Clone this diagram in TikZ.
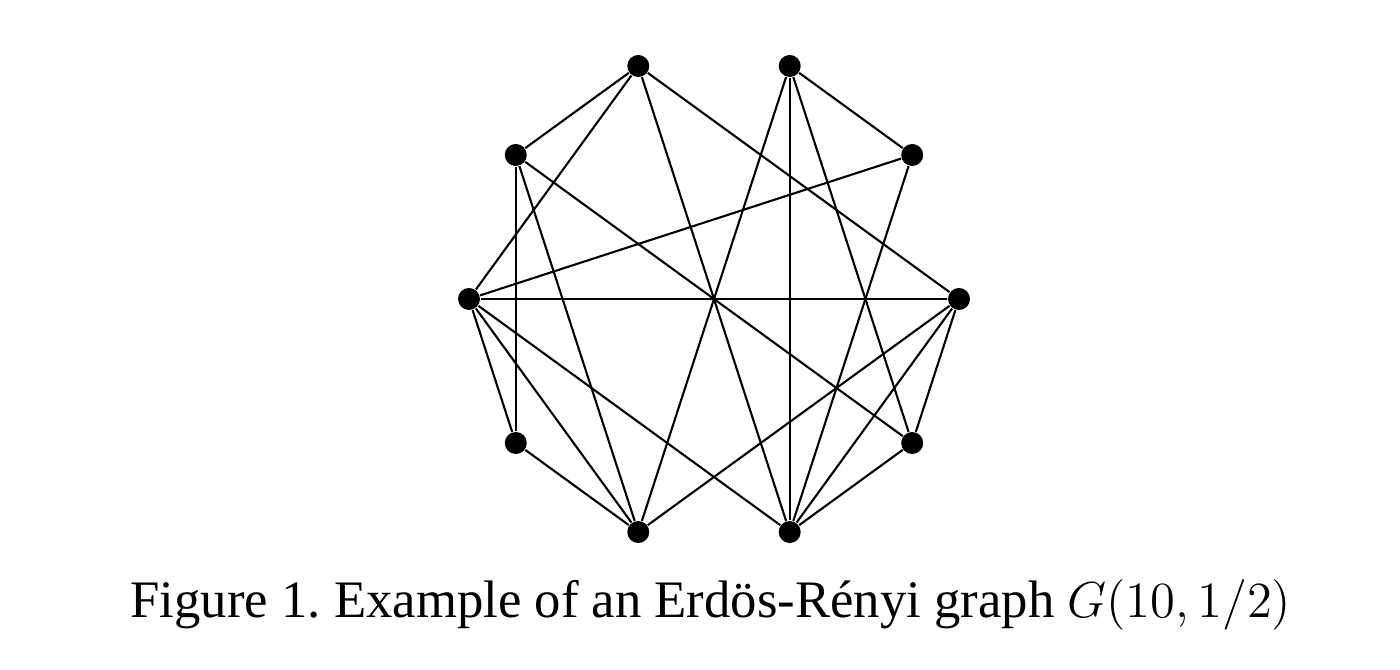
\documentclass[tikz,border=0pt]{standalone}
\usepackage{fontspec}
\setmainfont{Liberation Serif}
\usetikzlibrary{positioning}

\begin{document}
\begin{tikzpicture}[vertex/.style={circle,fill=black,inner sep=0pt,minimum size=0.22cm},edge/.style={line width=0.6pt}]
            \useasboundingbox (-7.14,2.99) rectangle (6.86,-3.71);
            \foreach \i in {0,...,9}
                \node[vertex] (v\i) at (36*\i:2.45) {};
            \foreach \a/\b in {0/3,0/5,0/7,0/8,0/9,1/2,1/5,1/8,2/7,2/8,2/9,3/4,3/5,3/8,4/6,4/7,4/9,5/6,5/7,5/8,6/7,8/9}
                \draw[edge] (v\a) -- (v\b);
            \node[font=\fontsize{15}{18}\selectfont] (caption) at (-0.03,-3.06) {Figure 1.\ Example of an Erdös-Rényi graph $G(10,1/2)$};
        \end{tikzpicture}
\end{document}
